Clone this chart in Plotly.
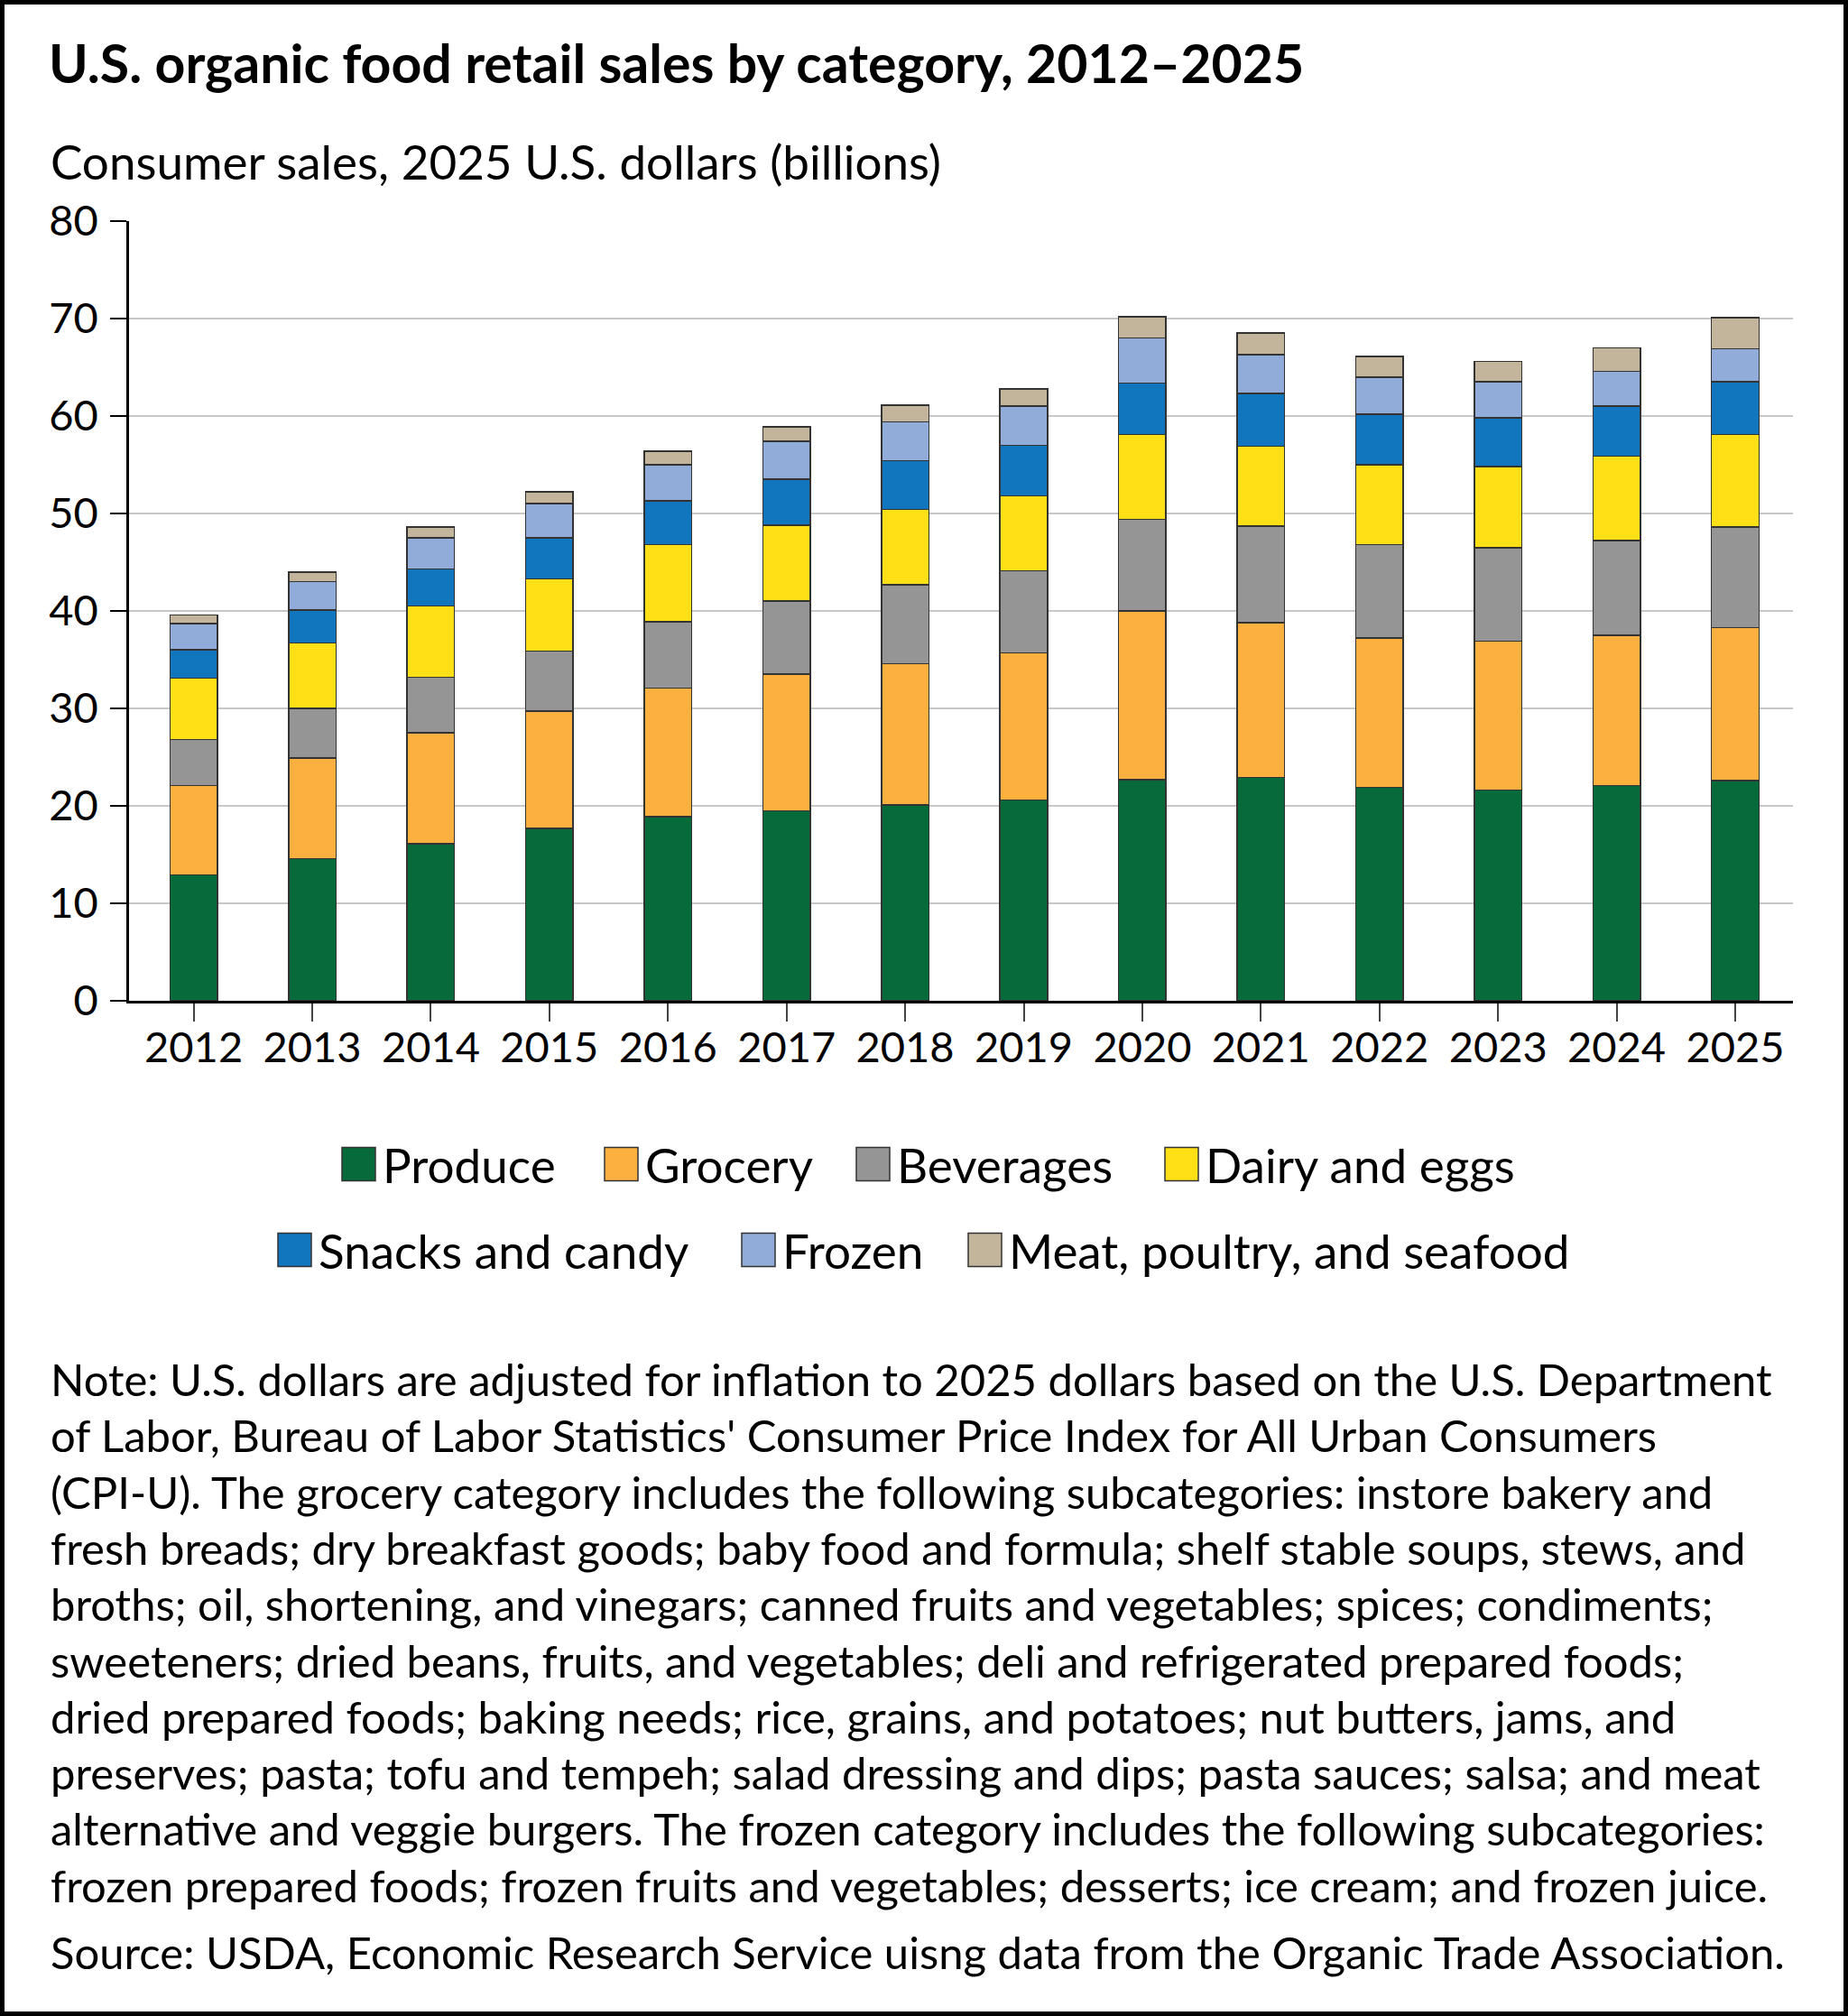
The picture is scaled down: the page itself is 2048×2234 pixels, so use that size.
import plotly.graph_objects as go

# Data (billions of 2025 U.S. dollars)
years = ['2012', '2013', '2014', '2015', '2016', '2017', '2018',
         '2019', '2020', '2021', '2022', '2023', '2024', '2025']

produce = [12.9, 14.6, 16.1, 17.7, 18.9, 19.5, 20.1, 20.6, 22.7, 22.9, 21.9, 21.6, 22.1, 22.6]
grocery = [9.2, 10.3, 11.4, 12.0, 13.2, 14.0, 14.5, 15.1, 17.3, 15.9, 15.3, 15.3, 15.4, 15.7]
beverages = [4.7, 5.1, 5.7, 6.2, 6.8, 7.5, 8.1, 8.4, 9.4, 9.9, 9.6, 9.6, 9.7, 10.3]
dairy = [6.3, 6.7, 7.3, 7.4, 7.9, 7.8, 7.7, 7.7, 8.7, 8.2, 8.2, 8.3, 8.7, 9.5]
snacks = [2.9, 3.4, 3.8, 4.2, 4.5, 4.7, 5.0, 5.2, 5.3, 5.4, 5.2, 5.0, 5.1, 5.4]
frozen = [2.7, 2.9, 3.2, 3.5, 3.7, 3.9, 4.0, 4.0, 4.6, 4.0, 3.8, 3.7, 3.6, 3.4]
meat = [0.9, 1.0, 1.1, 1.2, 1.4, 1.5, 1.7, 1.8, 2.2, 2.2, 2.1, 2.1, 2.4, 3.2]

series = [
    ('Produce', produce, '#066a3a'),
    ('Grocery', grocery, '#fbb040'),
    ('Beverages', beverages, '#959595'),
    ('Dairy and eggs', dairy, '#ffdf15'),
    ('Snacks and candy', snacks, '#1176bd'),
    ('Frozen', frozen, '#92acda'),
    ('Meat, poultry, and seafood', meat, '#c3b59b'),
]

title = 'U.S. organic food retail sales by category, 2012–2025'
y_title = 'Consumer sales, 2025 U.S. dollars (billions)'
note_lines = [
    "Note: U.S. dollars are adjusted for inflation to 2025 dollars based on the U.S. Department",
    "of Labor, Bureau of Labor Statistics' Consumer Price Index for All Urban Consumers",
    "(CPI-U). The grocery category includes the following subcategories: instore bakery and",
    "fresh breads; dry breakfast goods; baby food and formula; shelf stable soups, stews, and",
    "broths; oil, shortening, and vinegars; canned fruits and vegetables; spices; condiments;",
    "sweeteners; dried beans, fruits, and vegetables; deli and refrigerated prepared foods;",
    "dried prepared foods; baking needs; rice, grains, and potatoes; nut butters, jams, and",
    "preserves; pasta; tofu and tempeh; salad dressing and dips; pasta sauces; salsa; and meat",
    "alternative and veggie burgers. The frozen category includes the following subcategories:",
    "frozen prepared foods; frozen fruits and vegetables; desserts; ice cream; and frozen juice.",
]
source = 'Source: USDA, Economic Research Service uisng data from the Organic Trade Association.'

# page geometry (pixels)
W, H = 2048, 2234
L, R, T, B = 143, 61, 245, 1125
PW = W - L - R
PH = H - T - B
FONT = 'Lato, Source Sans Pro, sans-serif'


def xp(px):
    return (px - L) / PW


def yp(py):
    return (H - B - py) / PH


fig = go.Figure()
for name, vals, color in series:
    fig.add_trace(go.Bar(
        x=years, y=vals, name=name,
        marker=dict(color=color, line=dict(color='#333333', width=1.5)),
        showlegend=False,
    ))

fig.update_layout(
    width=W, height=H,
    barmode='stack', bargap=0.6,
    margin=dict(l=L, r=R, t=T, b=B),
    paper_bgcolor='white', plot_bgcolor='white',
    font=dict(family=FONT, size=46, color='black'),
    title=dict(text='<b>' + title + '</b>', x=54 / W, xanchor='left',
               y=1 - 71 / H, yanchor='middle',
               font=dict(family=FONT, size=59, color='black')),
)
fig.update_yaxes(range=[0, 80], dtick=10, showgrid=True, gridcolor='#c8c8c8', gridwidth=2,
                 showline=True, linecolor='black', linewidth=2.5,
                 ticks='outside', ticklen=18, tickwidth=2, tickcolor='black',
                 ticklabelstandoff=4, tickfont=dict(size=47), zeroline=False)
fig.update_xaxes(type='category', range=[-0.545, 13.487],
                 showline=True, linecolor='black', linewidth=2.5,
                 ticks='outside', ticklen=20, tickwidth=1.5, tickcolor='#444444',
                 ticklabelstandoff=-11, tickfont=dict(size=47))

# axis title
fig.add_annotation(text=y_title, xref='paper', yref='paper', x=xp(54), y=yp(178),
                   xanchor='left', yanchor='middle', showarrow=False,
                   font=dict(size=53))

# legend drawn by hand in two centred rows
legend_rows = [
    (1290, [('Produce', 379), ('Grocery', 670), ('Beverages', 949), ('Dairy and eggs', 1291)]),
    (1385, [('Snacks and candy', 308), ('Frozen', 822), ('Meat, poultry, and seafood', 1073)]),
]
colors = {name: color for name, _, color in series}
sq = 37
for ymid, items in legend_rows:
    for name, x0 in items:
        fig.add_shape(type='rect', xref='paper', yref='paper',
                      x0=xp(x0), x1=xp(x0 + sq), y0=yp(ymid + sq / 2), y1=yp(ymid - sq / 2),
                      fillcolor=colors[name], line=dict(color='#333333', width=1.5))
        fig.add_annotation(text=name, xref='paper', yref='paper', x=xp(x0 + sq + 6), y=yp(ymid),
                           xanchor='left', yanchor='middle', showarrow=False,
                           font=dict(size=53))

# note and source
for i, line in enumerate(note_lines):
    fig.add_annotation(text=line, xref='paper', yref='paper', x=xp(54), y=yp(1528 + i * 62.3),
                       xanchor='left', yanchor='middle', showarrow=False,
                       font=dict(size=49))
fig.add_annotation(text=source, xref='paper', yref='paper', x=xp(54), y=yp(2163),
                   xanchor='left', yanchor='middle', showarrow=False,
                   font=dict(size=49))

# frame round the whole graphic
fig.add_shape(type='rect', xref='paper', yref='paper',
              x0=xp(2.5), x1=xp(W - 2.5), y0=yp(H - 2.5), y1=yp(2.5),
              line=dict(color='black', width=5), fillcolor='rgba(0,0,0,0)')

fig.write_html('out.html', config={'displayModeBar': False},
               post_script="document.body.style.margin = '0px';")
